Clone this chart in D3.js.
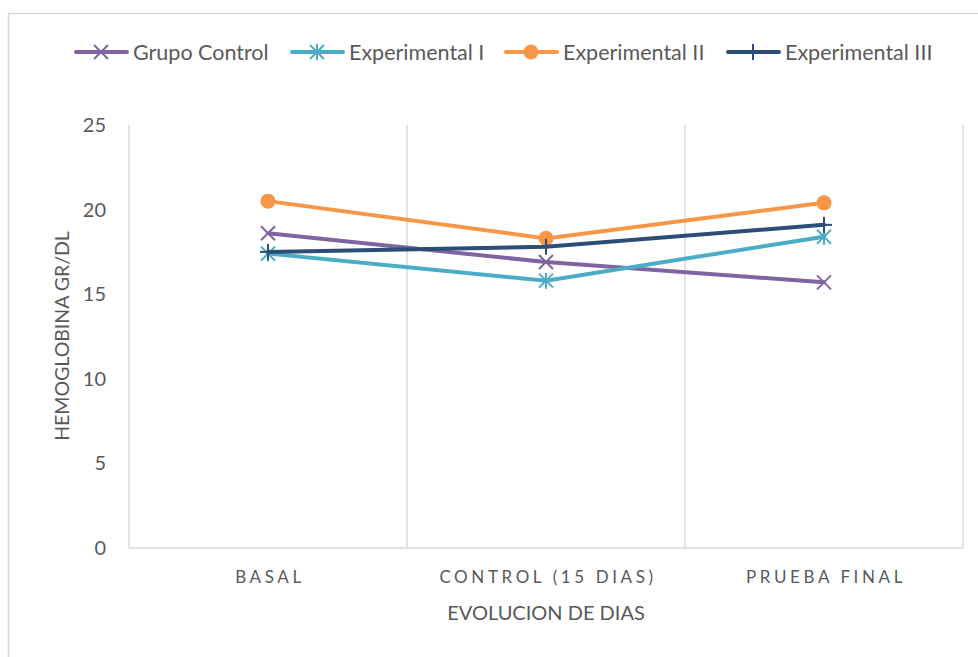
<!DOCTYPE html>
<html>
<head>
<meta charset="utf-8">
<script src="https://cdn.jsdelivr.net/npm/d3@7"></script>
<style>
  body { margin: 0; background: #fff; }
  text { font-family: Lato, "Open Sans", sans-serif; fill: #595959; }
</style>
</head>
<body>
<div id="chart"></div>
<script>
// categories and series
var categories = ["BASAL", "CONTROL (15 DIAS)", "PRUEBA FINAL"];
var seriesNames = ["Grupo Control", "Experimental I", "Experimental II", "Experimental III"];
var grupoControl = [18.6, 16.9, 15.7];
var experimentalI = [17.4, 15.8, 18.4];
var experimentalII = [20.5, 18.3, 20.4];
var experimentalIII = [17.5, 17.8, 19.1];
var yTicks = [0, 5, 10, 15, 20, 25];

var colors = ["#8064A2", "#4BACC6", "#F79646", "#2C4D75"];
var markers = ["x", "star", "circle", "plus"];
var seriesValues = [grupoControl, experimentalI, experimentalII, experimentalIII];

var W = 978, H = 657;
var margin = {left: 129, top: 125, right: 15, bottom: 109};

var svg = d3.select("#chart").append("svg")
    .attr("width", W).attr("height", H);

// outer chart border
svg.append("rect")
    .attr("x", 8.5).attr("y", 13.5)
    .attr("width", W + 20).attr("height", H + 20)
    .attr("fill", "none").attr("stroke", "#d9d9d9").attr("stroke-width", 1.5);

var x = d3.scaleBand().domain(categories).range([margin.left, W - margin.right]);
var y = d3.scaleLinear().domain([0, 25]).range([H - margin.bottom, margin.top]);

// vertical gridlines at category boundaries
var bounds = categories.map(function(c){ return x(c); }).concat([x.range()[1]]);
svg.selectAll(".vgrid").data(bounds).enter().append("line")
    .attr("x1", function(d){ return d; }).attr("x2", function(d){ return d; })
    .attr("y1", y(25)).attr("y2", y(0))
    .attr("stroke", "#d9d9d9").attr("stroke-width", 1.5);

// bottom axis line
svg.append("line")
    .attr("x1", x.range()[0]).attr("x2", x.range()[1])
    .attr("y1", y(0)).attr("y2", y(0))
    .attr("stroke", "#d9d9d9").attr("stroke-width", 1.5);

// y tick labels
svg.selectAll(".ytick").data(yTicks).enter().append("text")
    .attr("x", 106).attr("y", function(d){ return y(d); })
    .attr("dy", "0.35em").attr("text-anchor", "end")
    .style("font-size", "20px")
    .text(function(d){ return d; });

// category labels
svg.selectAll(".xlab").data(categories).enter().append("text")
    .attr("x", function(d){ return x(d) + x.bandwidth() / 2 + 2; })
    .attr("y", 583)
    .attr("text-anchor", "middle")
    .style("font-size", "17px").style("letter-spacing", "3.6px")
    .text(function(d){ return d; });

// axis titles
svg.append("text")
    .attr("x", x(categories[1]) + x.bandwidth() / 2).attr("y", 620)
    .attr("text-anchor", "middle").style("font-size", "20px")
    .text("EVOLUCION DE DIAS");

svg.append("text")
    .attr("transform", "translate(62,336) rotate(-90)")
    .attr("text-anchor", "middle").attr("dy", "0.35em").style("font-size", "19.5px")
    .text("HEMOGLOBINA GR/DL");

var drawMarker = function(g, type, color, cx, cy) {
    if (type === "circle") {
        g.append("circle").attr("cx", cx).attr("cy", cy).attr("r", 7.5).attr("fill", color);
        return;
    }
    var s = 7, segs = [];
    if (type === "x" || type === "star") segs.push([-s, -s, s, s], [-s, s, s, -s]);
    if (type === "plus" || type === "star") segs.push([0, -s - 1, 0, s + 1]);
    if (type === "plus") segs.push([-s - 1, 0, s + 1, 0]);
    segs.forEach(function(p) {
        g.append("line")
            .attr("x1", cx + p[0]).attr("y1", cy + p[1])
            .attr("x2", cx + p[2]).attr("y2", cy + p[3])
            .attr("stroke", color).attr("stroke-width", 2);
    });
};

var line = d3.line()
    .x(function(d, i){ return x(categories[i]) + x.bandwidth() / 2; })
    .y(function(d){ return y(d); });

seriesValues.forEach(function(vals, k) {
    var g = svg.append("g");
    g.append("path").datum(vals)
        .attr("d", line)
        .attr("fill", "none").attr("stroke", colors[k])
        .attr("stroke-width", 4).attr("stroke-linecap", "round");
    vals.forEach(function(v, i) {
        drawMarker(g, markers[k], colors[k], x(categories[i]) + x.bandwidth() / 2, y(v));
    });
});

// legend
var legendX = [74, 290, 504, 726];
seriesNames.forEach(function(name, k) {
    var g = svg.append("g");
    var lx = legendX[k], ly = 52;
    g.append("line")
        .attr("x1", lx + 2).attr("x2", lx + 53).attr("y1", ly).attr("y2", ly)
        .attr("stroke", colors[k]).attr("stroke-width", 4).attr("stroke-linecap", "round");
    drawMarker(g, markers[k], colors[k], lx + 27, ly);
    g.append("text")
        .attr("x", lx + 59).attr("y", ly).attr("dy", "0.35em")
        .style("font-size", "21.5px")
        .text(name);
});
</script>
</body>
</html>
